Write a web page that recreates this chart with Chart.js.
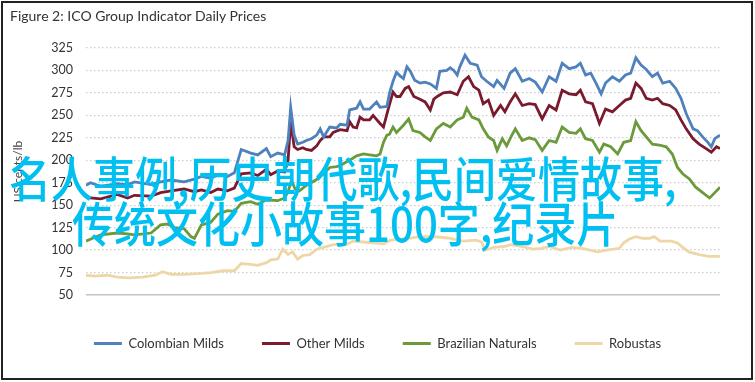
<!DOCTYPE html>
<html>
<head>
<meta charset="utf-8">
<script src="https://cdn.jsdelivr.net/npm/chart.js@4.4.1/dist/chart.umd.min.js"></script>
<style>
html, body { margin: 0; padding: 0; background: #fff; }
#wrap { position: absolute; left: 0; top: 0; width: 755px; height: 382px; }
#frame { position: absolute; left: 1px; top: 1px; width: 748px; height: 375px; border: 2px solid #222; }
#title { position: absolute; left: 10px; top: 7px; font: 14px Lato, sans-serif; color: #333; }
.wm { position: absolute; font-family: "Noto Sans CJK SC", sans-serif; font-size: 42px; font-weight: 500; line-height: 1; color: #00c0f2; white-space: nowrap; transform: scaleY(1.14); transform-origin: left center; }
canvas { position: absolute; left: 0; top: 0; }
</style>
</head>
<body>
<div id="wrap">
  <div id="frame"></div>
  <canvas id="chart" width="755" height="382"></canvas>
  <div id="title">Figure 2: ICO Group Indicator Daily Prices</div>
  <div class="wm" style="left:9px; top:155px;">名人事例,历史朝代歌,民间爱情故事,</div>
  <div class="wm" style="left:72px; top:200px;">传统文化小故事100字,纪录片</div>
</div>
<script>
// days counted from 1 Dec 2020
const tickDays = [0, 90, 182, 274, 365, 455, 547, 639];
const tickLabels = ['Dec-20', 'Mar-21', 'Jun-21', 'Sep-21', 'Dec-21', 'Mar-22', 'Jun-22', 'Sep-22'];
const seriesNames = ['Colombian Milds', 'Other Milds', 'Brazilian Naturals', 'Robustas'];
const seriesColors = ['#4f81bd', '#7a1a2e', '#6b9a3b', '#eed7a6'];

const colDays = [0, 5, 17, 36, 48, 56, 75, 86, 98, 113, 125, 133, 144, 152, 163, 171, 179, 190, 198, 208, 213, 221, 229, 233, 236, 240, 244, 250, 254, 260, 266, 270, 274, 281, 289, 293, 301, 304, 312, 316, 320, 327, 335, 339, 347, 350, 354, 358, 362, 366, 370, 374, 379, 385, 391, 397, 404, 408, 416, 420, 424, 428, 431, 437, 443, 451, 456, 462, 470, 474, 482, 489, 495, 503, 511, 518, 526, 534, 542, 549, 557, 565, 570, 576, 582, 588, 594, 599, 607, 615, 622, 628, 634, 640, 646, 653, 659, 665, 673, 680, 686, 692, 700, 705, 711, 717, 721, 725, 731];
const colVals = [172, 175, 171, 174, 173, 176, 173, 176, 178, 176, 179, 182, 180, 184, 182, 186, 212, 208, 206, 213, 204, 208, 206, 222, 259, 228, 218, 220, 222, 224, 228, 235, 226, 237, 236, 240, 239, 256, 258, 265, 257, 257, 265, 259, 260, 275, 288, 298, 294, 291, 304, 299, 289, 286, 287, 285, 280, 299, 300, 303, 300, 295, 304, 317, 308, 306, 293, 288, 282, 289, 280, 297, 302, 288, 291, 287, 276, 293, 288, 308, 302, 304, 308, 295, 297, 286, 274, 286, 293, 288, 295, 297, 314, 306, 301, 293, 297, 286, 288, 280, 269, 252, 235, 233, 226, 220, 215, 224, 228];

const othDays = [0, 5, 17, 36, 48, 56, 75, 86, 98, 113, 125, 133, 144, 152, 163, 171, 179, 190, 198, 208, 213, 221, 229, 233, 236, 240, 244, 250, 254, 260, 266, 270, 274, 281, 285, 293, 301, 304, 308, 312, 316, 320, 327, 331, 339, 343, 349, 354, 358, 362, 368, 372, 378, 385, 391, 397, 401, 405, 412, 420, 428, 435, 441, 447, 453, 458, 464, 470, 478, 483, 489, 495, 503, 511, 518, 526, 534, 542, 549, 557, 565, 570, 576, 584, 592, 599, 607, 615, 622, 628, 634, 640, 646, 653, 659, 665, 673, 680, 686, 692, 700, 707, 715, 721, 727, 731];
const othVals = [160, 158, 157, 162, 158, 161, 160, 164, 166, 168, 165, 167, 164, 168, 166, 169, 185, 186, 183, 190, 184, 188, 187, 200, 243, 215, 212, 214, 212, 211, 216, 222, 226, 226, 231, 234, 233, 243, 237, 236, 248, 245, 245, 250, 241, 237, 259, 276, 271, 271, 280, 282, 271, 268, 265, 256, 268, 271, 275, 276, 273, 288, 293, 282, 278, 263, 267, 250, 261, 254, 265, 274, 261, 263, 262, 246, 261, 256, 278, 274, 273, 278, 265, 263, 241, 257, 254, 261, 267, 269, 286, 280, 269, 267, 269, 263, 261, 256, 245, 235, 224, 218, 213, 209, 215, 213];

const brzDays = [0, 5, 17, 36, 48, 56, 75, 86, 94, 102, 113, 121, 125, 133, 144, 152, 163, 171, 179, 190, 198, 208, 221, 229, 233, 237, 241, 246, 254, 265, 274, 281, 289, 293, 300, 304, 312, 320, 327, 335, 339, 343, 347, 350, 354, 358, 366, 372, 377, 385, 391, 397, 404, 412, 420, 428, 435, 439, 445, 453, 458, 464, 470, 474, 480, 485, 490, 495, 503, 511, 518, 526, 534, 542, 549, 557, 565, 570, 576, 584, 592, 597, 605, 613, 620, 628, 634, 640, 646, 653, 661, 669, 676, 682, 688, 696, 703, 711, 719, 725, 731];
const brzVals = [110, 112, 117, 119, 118, 117, 119, 128, 129, 125, 124, 115, 113, 128, 131, 140, 144, 143, 152, 154, 151, 156, 155, 158, 165, 178, 168, 166, 172, 178, 185, 192, 193, 194, 198, 200, 205, 207, 206, 205, 207, 220, 228, 229, 237, 231, 239, 246, 233, 231, 226, 222, 235, 241, 237, 245, 248, 258, 248, 245, 235, 226, 222, 211, 224, 216, 226, 235, 222, 225, 223, 211, 222, 220, 237, 231, 230, 235, 224, 222, 209, 218, 215, 207, 220, 222, 243, 233, 226, 218, 217, 215, 207, 192, 185, 179, 170, 164, 158, 164, 170];

const robDays = [0, 10, 25, 36, 50, 65, 80, 88, 98, 113, 133, 144, 158, 171, 179, 190, 198, 208, 213, 221, 227, 233, 238, 244, 250, 258, 266, 274, 285, 300, 308, 320, 331, 343, 351, 360, 372, 385, 400, 412, 420, 435, 450, 456, 460, 470, 482, 490, 503, 515, 526, 534, 547, 560, 572, 590, 600, 615, 620, 626, 634, 642, 650, 655, 662, 675, 682, 688, 695, 707, 718, 731];
const robVals = [72, 71, 72, 70, 69, 70, 72, 76, 73, 73, 74, 75, 77, 77, 85, 84, 83, 86, 89, 90, 101, 95, 98, 90, 94, 95, 101, 103, 106, 106, 110, 109, 108, 107, 111, 112, 113, 115, 115, 114, 113, 110, 111, 109, 100, 103, 104, 106, 104, 101, 102, 104, 100, 103, 102, 98, 100, 102, 108, 112, 115, 113, 113, 115, 110, 110, 108, 103, 98, 95, 93, 93];

const dayLists = [colDays, othDays, brzDays, robDays];
const valLists = [colVals, othVals, brzVals, robVals];

const datasets = seriesNames.map((name, i) => ({
  label: name,
  data: dayLists[i].map((d, j) => ({ x: d, y: valLists[i][j] })),
  borderColor: seriesColors[i],
  backgroundColor: seriesColors[i],
  borderWidth: 2.8,
  pointRadius: 0,
  tension: 0,
}));

const ctx = document.getElementById('chart').getContext('2d');
const chart = new Chart(ctx, {
  type: 'line',
  data: { datasets: datasets },
  options: {
    responsive: false,
    animation: false,
    layout: { padding: { left: 35, right: 35, top: 48, bottom: 22 } },
    plugins: {
      tooltip: { enabled: false },
      legend: {
        position: 'bottom',
        labels: {
          boxWidth: 28,
          boxHeight: 3,
          padding: 38,
          color: '#333',
          font: { family: 'Lato', size: 13 },
          generateLabels: (c) => Chart.defaults.plugins.legend.labels.generateLabels(c).map(l => ({ ...l, lineWidth: 0 })),
        },
      },
    },
    scales: {
      x: {
        type: 'linear',
        min: 0,
        max: 731,
        afterBuildTicks: (scale) => { scale.ticks = tickDays.map(v => ({ value: v })); },
        afterFit: (scale) => { scale.height = 4; },
        ticks: {
          autoSkip: false,
          maxRotation: 0,
          padding: 9,
          color: '#333',
          font: { family: 'Lato', size: 12.5 },
          callback: (v, i) => tickLabels[i],
        },
        grid: { display: false },
        border: { display: false },
      },
      y: {
        min: 50,
        max: 325,
        afterFit: (scale) => { scale.width = 51; },
        ticks: { stepSize: 25, padding: 13, color: '#333', font: { family: 'Lato', size: 12.5 } },
        grid: {
          drawTicks: false,
          lineWidth: (c) => (c.tick && c.tick.value === 50 ? 1.5 : 1.2),
          color: (c) => (c.tick && c.tick.value === 50 ? '#c4c4c4' : '#cdcdcd'),
        },
        border: { display: false, dash: (c) => (c.tick && c.tick.value === 50 ? [] : [1.5, 2.5]) },
        title: {
          display: true,
          text: 'US cents/lb',
          color: '#444',
          font: { family: 'Lato', size: 12 },
          padding: { top: -24, bottom: 0 },
        },
      },
    },
  },
});
</script>
</body>
</html>
